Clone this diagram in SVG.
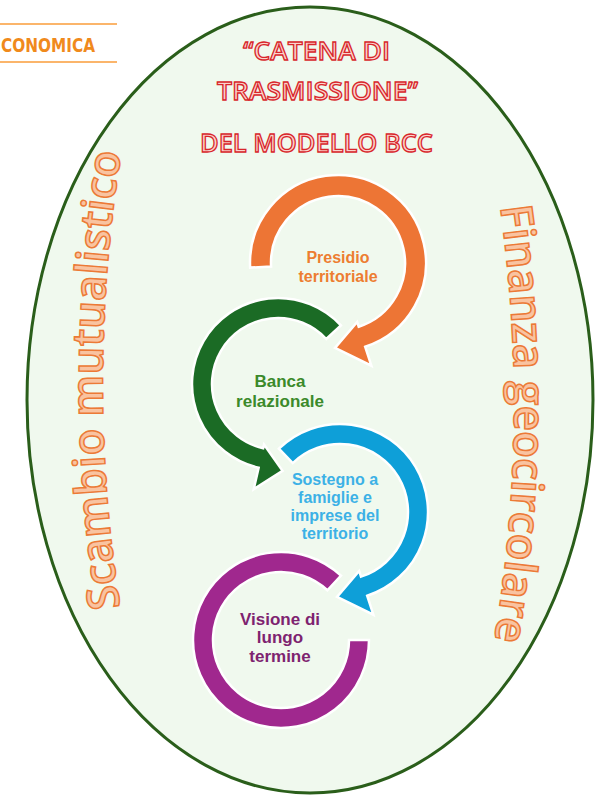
<svg xmlns="http://www.w3.org/2000/svg" width="599" height="799" viewBox="0 0 599 799">
<defs>
<style>
.lbl{font-family:"Liberation Sans",Arial,sans-serif;font-weight:bold;text-anchor:middle}
.ttl{font-family:"Open Sans","Liberation Sans",sans-serif;font-weight:600;font-size:26px;fill:#fbd3cc;stroke:#d8262b;stroke-width:1.3;text-anchor:middle}
.side{font-family:"Open Sans","Liberation Sans",sans-serif;font-weight:600;fill:#f9c3a0;stroke:#ec7a36;stroke-width:1.5}
.ring{stroke:#ffffff;stroke-width:2.5;stroke-linejoin:miter}
</style>
<path id="pl" d="M 121 612 Q 84 380 122 148"/>
<path id="pr" d="M 500 205 Q 531 425 494 642"/>
</defs>
<rect width="599" height="799" fill="#ffffff"/>
<g id="header">
<line x1="0" y1="24" x2="117" y2="24" stroke="#fbb56b" stroke-width="2"/>
<line x1="0" y1="62" x2="117" y2="62" stroke="#fbb56b" stroke-width="2"/>
<text x="1" y="52" font-family="'DejaVu Sans Condensed','Liberation Sans',sans-serif" font-weight="bold" font-size="19" fill="#f08a1c" textLength="94" lengthAdjust="spacingAndGlyphs">CONOMICA</text>
</g>
<g id="frame">
<ellipse cx="310" cy="400" rx="283" ry="393" fill="#f0f9ee" stroke="#2a5e1a" stroke-width="3"/>
</g>
<g id="title">
<text class="ttl" x="316.5" y="60" textLength="147" lengthAdjust="spacingAndGlyphs">“CATENA DI</text>
<text class="ttl" x="317.5" y="100" textLength="201" lengthAdjust="spacingAndGlyphs">TRASMISSIONE”</text>
<text class="ttl" x="316.5" y="152" textLength="233" lengthAdjust="spacingAndGlyphs">DEL MODELLO BCC</text>
</g>
<g id="side-left">
<text class="side" font-size="44"><textPath href="#pl" startOffset="50%" text-anchor="middle">Scambio mutualistico</textPath></text>
</g>
<g id="side-right">
<text class="side" font-size="44"><textPath href="#pr" startOffset="50%" text-anchor="middle">Finanza geocircolare</textPath></text>
</g>
<g id="node-presidio">
<path class="ring" fill="#ed7535" d="M 250.12 267.61 A 88 88 0 1 1 365.19 346.69 L 371.37 365.71 L 335.03 347.95 L 357.16 321.97 L 358.70 326.72 A 67 67 0 1 0 271.09 266.51 Z"/>
<text class="lbl" font-size="16" fill="#ed7d31"><tspan x="338" y="263">Presidio</tspan><tspan x="338" y="282">territoriale</tspan></text>
</g>
<g id="node-banca">
<path class="ring" fill="#1b6b25" d="M 340.90 325.35 A 86 86 0 1 0 258.65 467.80 L 253.71 489.23 L 282.55 470.88 L 264.05 444.41 L 263.15 448.31 A 66 66 0 1 1 326.27 338.99 Z"/>
<text class="lbl" font-size="17" fill="#3b8a2a"><tspan x="280" y="387">Banca</tspan><tspan x="280" y="407">relazionale</tspan></text>
</g>
<g id="node-sostegno">
<path class="ring" fill="#0e9fd8" d="M 278.87 448.70 A 88 88 0 1 1 367.19 595.69 L 373.37 614.71 L 337.03 596.95 L 359.16 570.97 L 361.01 576.67 A 68 68 0 1 0 292.76 463.08 Z"/>
<text class="lbl" font-size="16" fill="#3cb1e6"><tspan x="335" y="485">Sostegno a</tspan><tspan x="335" y="503">famiglie e</tspan><tspan x="335" y="521">imprese del</tspan><tspan x="335" y="539">territorio</tspan></text>
</g>
<g id="node-visione">
<path class="ring" fill="#a0288e" d="M 341.02 575.64 A 88 88 0 1 0 369 640 L 349 640 A 68 68 0 1 1 327.38 590.27 Z"/>
<text class="lbl" font-size="17" fill="#7e2370"><tspan x="280" y="625">Visione di</tspan><tspan x="280" y="643">lungo</tspan><tspan x="280" y="662">termine</tspan></text>
</g>
</svg>
